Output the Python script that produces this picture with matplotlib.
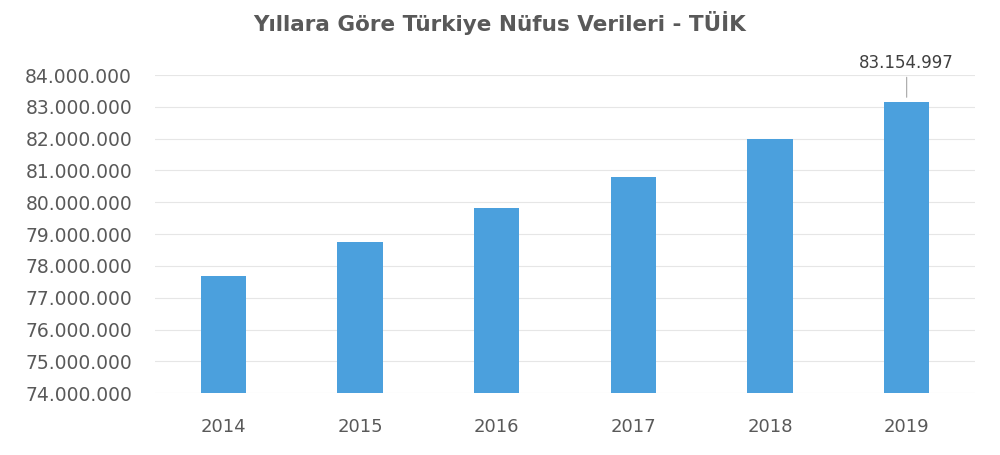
import matplotlib
matplotlib.use("Agg")
import matplotlib.pyplot as plt
from matplotlib.ticker import FuncFormatter

years = ["2014", "2015", "2016", "2017", "2018", "2019"]
population = [77695904, 78741053, 79814871, 80810525, 82003882, 83154997]
y_ticks = list(range(74000000, 84000001, 1000000))

def fmt(v, pos=None):
    return f"{int(v):,}".replace(",", ".")

fig = plt.figure(figsize=(10, 4.55), dpi=100)
ax = fig.add_axes([0.155, 0.136, 0.82, 0.699])
x = list(range(len(years)))
ax.bar(x, population, width=0.33, color="#4BA0DD", zorder=3)
ax.set_ylim(74000000, 84000000)
ax.set_xlim(-0.5, len(years) - 0.5)
ax.set_yticks(y_ticks)
ax.yaxis.set_major_formatter(FuncFormatter(fmt))
ax.set_xticks(x)
ax.set_xticklabels(years)
ax.grid(axis="y", color="#E6E6E6", linewidth=0.8, zorder=0)
for s in ax.spines.values():
    s.set_visible(False)
ax.tick_params(axis="both", length=0, colors="#595959")
ax.tick_params(axis="x", pad=18, labelsize=13)
ax.tick_params(axis="y", pad=16.5, labelsize=13.5)

# annotation on last bar
ax.annotate(fmt(population[-1]), xy=(x[-1], population[-1] + 60000),
            xytext=(x[-1], population[-1] + 950000),
            ha="center", va="bottom", fontsize=12, color="#404040",
            arrowprops=dict(arrowstyle="-", color="#A6A6A6", lw=0.8),
            annotation_clip=False)

fig.suptitle("Yıllara Göre Türkiye Nüfus Verileri - TÜİK", y=0.975,
             fontsize=15.5, fontweight="bold", color="#595959")
fig.savefig("out.png", dpi=100, facecolor="white")
